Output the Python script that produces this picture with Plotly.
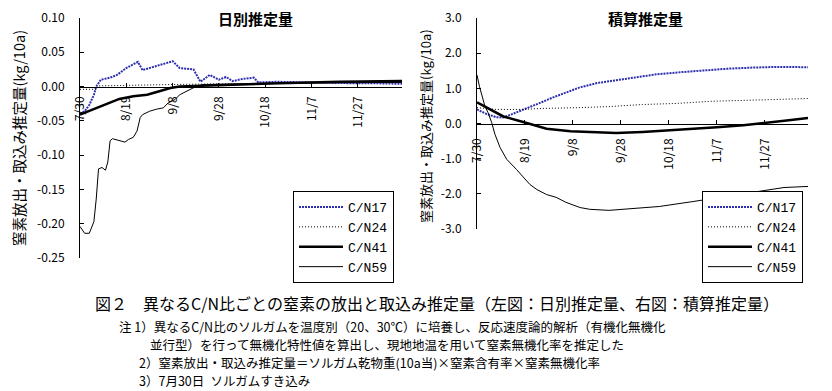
import plotly.graph_objects as go

W, H = 832, 391

# ---------------- data (days after 7/30) ----------------
tick_days = [0, 20, 40, 60, 80, 100, 120]
tick_text = ["7/30", "8/19", "9/8", "9/28", "10/18", "11/7", "11/27"]

# daily estimate (left)
d17_days = [0, 2, 4, 6, 7, 9, 13, 16, 20, 25, 27, 32, 36, 40, 43, 49, 52, 56, 60, 63, 66, 70, 75, 77, 85, 95, 105, 115, 125, 139]
d17_vals = [-0.040, -0.036, -0.027, -0.012, 0.000, 0.010, 0.013, 0.017, 0.027, 0.036, 0.024, 0.029, 0.034, 0.037, 0.027,
            0.025, 0.007, 0.017, 0.010, 0.014, 0.008, 0.011, 0.013, 0.006, 0.007, 0.006, 0.006, 0.005, 0.005, 0.004]
d24_days = [0, 7, 8, 20, 40, 60, 80, 100, 120, 139]
d24_vals = [-0.004, -0.004, 0.001, 0.002, 0.003, 0.004, 0.005, 0.006, 0.007, 0.007]
d41_days = [0, 9, 17, 23, 29, 35, 39, 43, 52, 65, 86, 112, 139]
d41_vals = [-0.041, -0.029, -0.018, -0.014, -0.012, -0.006, -0.002, 0.000, 0.001, 0.003, 0.005, 0.007, 0.008]
d59_days = [0, 2, 4, 6, 7, 8, 9.5, 11, 12, 13, 14, 16, 18, 19.4, 21, 23, 24.6, 26, 27, 30, 33, 36, 38, 41, 43, 46,
            50, 53, 65, 90, 139]
d59_vals = [-0.204, -0.214, -0.214, -0.197, -0.164, -0.120, -0.118, -0.122, -0.110, -0.079, -0.076, -0.078, -0.079,
            -0.081, -0.077, -0.074, -0.065, -0.045, -0.041, -0.036, -0.033, -0.031, -0.024, -0.019, -0.012, -0.007,
            0.000, 0.003, 0.004, 0.005, 0.006]

# cumulative estimate (right)
c17_days = [0, 4, 8, 11, 14, 19, 25, 32, 39, 43, 50, 57, 65, 75, 85, 95, 105, 115, 125, 138]
c17_vals = [0.40, 0.27, 0.18, 0.17, 0.25, 0.38, 0.55, 0.75, 0.93, 1.03, 1.15, 1.22, 1.32, 1.40, 1.46, 1.52, 1.56,
            1.59, 1.61, 1.60]
c24_days = [0, 8, 18, 28, 42, 55, 69, 83, 97, 111, 125, 138]
c24_vals = [0.45, 0.40, 0.40, 0.43, 0.45, 0.48, 0.54, 0.57, 0.63, 0.66, 0.68, 0.71]
c41_days = [0, 5, 11, 20, 29, 39, 47, 58, 69, 80, 100, 111, 119, 130, 138]
c41_vals = [0.60, 0.42, 0.20, 0.03, -0.15, -0.22, -0.25, -0.27, -0.24, -0.20, -0.11, -0.05, 0.00, 0.09, 0.16]
c59_days = [0, 1, 3.3, 4.6, 6.1, 7.5, 9.6, 12.4, 16.5, 19.3, 22, 25, 29, 33, 37, 43, 47, 55, 62, 76, 90, 104, 118, 128, 138]
c59_vals = [1.38, 1.06, 0.49, 0.31, 0.03, -0.31, -0.68, -1.02, -1.31, -1.54, -1.73, -1.88, -2.02, -2.10, -2.24, -2.39,
            -2.44, -2.47, -2.44, -2.36, -2.22, -2.07, -1.93, -1.82, -1.79]

names = ["C/N17", "C/N24", "C/N41", "C/N59"]

left_ticks = [-0.25, -0.20, -0.15, -0.10, -0.05, 0.00, 0.05, 0.10]
left_ticktext = ["-0.25", "-0.20", "-0.15", "-0.10", "-0.05", "0.00", "0.05", "0.10"]
right_ticks = [-3, -2, -1, 0, 1, 2, 3]
right_ticktext = ["-3.0", "-2.0", "-1.0", "0.0", "1.0", "2.0", "3.0"]

# ---------------- styling ----------------
styles = [
    dict(color="#2e2eb0", width=2, dash="2px,1px"),
    dict(color="#000000", width=1, dash="1px,2px"),
    dict(color="#000000", width=2.5),
    dict(color="#000000", width=1),
]

def px(x):
    return x / W

def py(y):
    return 1 - y / H

JP = "Noto Sans CJK JP"

fig = go.Figure()
left = [(d17_days, d17_vals), (d24_days, d24_vals), (d41_days, d41_vals), (d59_days, d59_vals)]
right = [(c17_days, c17_vals), (c24_days, c24_vals), (c41_days, c41_vals), (c59_days, c59_vals)]
for (dx, dy), nm, st in zip(left, names, styles):
    fig.add_trace(go.Scatter(x=dx, y=dy, mode="lines", name=nm, line=st, xaxis="x", yaxis="y",
                             legend="legend"))
for (dx, dy), nm, st in zip(right, names, styles):
    fig.add_trace(go.Scatter(x=dx, y=dy, mode="lines", name=nm, line=st, xaxis="x2", yaxis="y2",
                             legend="legend2"))

# plot areas (pixels)
L = dict(x0=80, x1=402, y0=18, y1=258, ymin=-0.25, ymax=0.10, xr=[0, 139])
R = dict(x0=477, x1=808, y0=18, y1=229, ymin=-3.0, ymax=3.0, xr=[0, 138])

def zero_pos(P):
    b, t = py(P["y1"]), py(P["y0"])
    return b + (0 - P["ymin"]) / (P["ymax"] - P["ymin"]) * (t - b)

tickfont = dict(family=JP, size=12, color="black")
common_x = dict(showline=True, linecolor="black", linewidth=1, ticks="inside", ticklen=4, tickcolor="black",
                showgrid=False, zeroline=False, tickangle=-90, tickmode="array", tickvals=tick_days,
                ticktext=tick_text, tickfont=tickfont, anchor="free", automargin=False)
common_y = dict(showline=True, linecolor="black", linewidth=1, ticks="inside", ticklen=4, tickcolor="black",
                showgrid=False, zeroline=False, tickmode="array", tickfont=tickfont, automargin=False)

legend_common = dict(bgcolor="white", bordercolor="black", borderwidth=1,
                     font=dict(family="Liberation Mono", size=13, color="black"),
                     xanchor="left", yanchor="middle", itemwidth=44, tracegroupgap=0)

fig.update_layout(
    width=W, height=H, margin=dict(l=0, r=0, t=0, b=0, autoexpand=False),
    paper_bgcolor="white", plot_bgcolor="white",
    xaxis=dict(domain=[px(L["x0"]), px(L["x1"])], range=L["xr"], position=zero_pos(L),
               ticklabelstandoff=4, **common_x),
    yaxis=dict(domain=[py(L["y1"]), py(L["y0"])], range=[L["ymin"], L["ymax"]], anchor="x",
               tickvals=left_ticks, ticktext=left_ticktext, ticklabelstandoff=12, **common_y),
    xaxis2=dict(domain=[px(R["x0"]), px(R["x1"])], range=R["xr"], position=zero_pos(R),
                ticklabelstandoff=9, **common_x),
    yaxis2=dict(domain=[py(R["y1"]), py(R["y0"])], range=[R["ymin"], R["ymax"]], anchor="x2",
                tickvals=right_ticks, ticktext=right_ticktext, ticklabelstandoff=12, **common_y),
    legend=dict(x=px(293), y=py(237), **legend_common),
    legend2=dict(x=px(702), y=py(237), **legend_common),
    showlegend=True,
)

ann = []
ann.append(dict(text="<b>日別推定量</b>", x=px(255), y=py(19), font=dict(family=JP, size=15, color="black")))
ann.append(dict(text="<b>積算推定量</b>", x=px(645), y=py(19), font=dict(family=JP, size=15, color="black")))
ann.append(dict(text="窒素放出・取込み推定量(kg/10a)", x=px(18), y=py(138), textangle=-90,
                font=dict(family=JP, size=14.5, color="black")))
ann.append(dict(text="窒素放出・取込み推定量(kg/10a)", x=px(425), y=py(126), textangle=-90,
                font=dict(family=JP, size=13, color="black")))

ann.append(dict(text="図２　異なるC/N比ごとの窒素の放出と取込み推定量（左図：日別推定量、右図：積算推定量）",
                x=px(93), y=py(303), xanchor="left", font=dict(family=JP, size=16, color="black")))

notes = [
    ("注 1）異なるC/N比のソルガムを温度別（20、30℃）に培養し、反応速度論的解析（有機化無機化", 117, 326),
    ("並行型）を行って無機化特性値を算出し、現地地温を用いて窒素無機化率を推定した", 148, 344),
    ("2）窒素放出・取込み推定量＝ソルガム乾物重(10a当)×窒素含有率×窒素無機化率", 137, 362),
    ("3）7月30日\u2005\u2005ソルガムすき込み", 137, 380),
]
for t, x, y in notes:
    ann.append(dict(text=t, x=px(x), y=py(y), xanchor="left", font=dict(family=JP, size=12.5, color="black")))

for a in ann:
    a.setdefault("xanchor", "center")
    a.setdefault("yanchor", "middle")
    a.update(xref="paper", yref="paper", showarrow=False)
fig.update_layout(annotations=ann)

fig.write_html("out.html", config={"displayModeBar": False},
               post_script="document.body.style.margin='0px';")
